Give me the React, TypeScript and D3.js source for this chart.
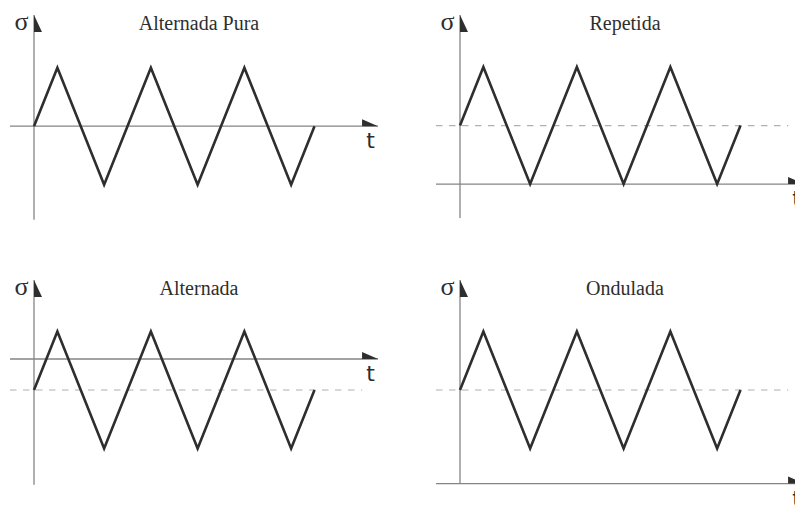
import React from "react";
import * as d3 from "d3";

// Time instants (in load periods) where the triangular stress wave turns.
const turnTimes = [0, 0.25, 0.75, 1.25, 1.75, 2.25, 2.75, 3];

// Stress values at each turning instant, one series per load type.
const sigmaAlternadaPura = [0, 1, -1, 1, -1, 1, -1, 0];
const sigmaRepetida = [1, 2, 0, 2, 0, 2, 0, 1];
const sigmaAlternada = [-0.53, 0.47, -1.53, 0.47, -1.53, 0.47, -1.53, -0.53];
const sigmaOndulada = [1.6, 2.6, 0.6, 2.6, 0.6, 2.6, 0.6, 1.6];

// Panel titles and mean stress levels (null = no mean line drawn).
const titles = ["Alternada Pura", "Repetida", "Alternada", "Ondulada"];
const meanLevels = [null, 1, -0.53, 1.6];

// Extent of each σ axis, in stress units: [bottom, top].
const sigmaExtents: [number, number][] = [
  [-1.6, 1.9],
  [-0.58, 2.89],
  [-2.15, 1.35],
  [0, 3.48],
];

// Extent of the time axis and of the mean line, in periods.
const timeExtent: [number, number] = [-0.257, 3.68];
const meanLineEnd = 3.51;

const series = [sigmaAlternadaPura, sigmaRepetida, sigmaAlternada, sigmaOndulada];

const W = 795;
const H = 505;
const PERIOD_PX = 93.5;
const UNIT_PX = 58.5;
const AXIS_COLOR = "#858585";
const INK = "#2e2e2e";

function Panel({ index, ox, oy }: { index: number; ox: number; oy: number }) {
  const [sLo, sHi] = sigmaExtents[index];
  const axisX = ox + 34;
  const axisTop = oy + 15;

  const x = d3
    .scaleLinear()
    .domain([0, 1])
    .range([axisX, axisX + PERIOD_PX]);
  const y = d3
    .scaleLinear()
    .domain([sHi, sHi - 1])
    .range([axisTop, axisTop + UNIT_PX]);

  const values = series[index];
  const pts = turnTimes.map((t, i) => [t, values[i]] as [number, number]);
  const line = d3
    .line<[number, number]>()
    .x((d) => x(d[0]))
    .y((d) => y(d[1]));

  const y0 = y(0);
  const xStart = x(timeExtent[0]);
  const xEnd = x(timeExtent[1]);
  const yBottom = y(sLo);
  const mean = meanLevels[index];

  return (
    <g>
      {/* time axis with half arrowhead */}
      <line x1={xStart} x2={xEnd} y1={y0} y2={y0} stroke={AXIS_COLOR} strokeWidth={1.3} />
      <path d={`M${xEnd - 16},${y0 - 7} L${xEnd},${y0} L${xEnd - 16},${y0} Z`} fill={INK} />
      {/* stress axis with half arrowhead */}
      <line x1={axisX} x2={axisX} y1={axisTop} y2={yBottom} stroke={AXIS_COLOR} strokeWidth={1.3} />
      <path d={`M${axisX},${axisTop} L${axisX + 8},${axisTop + 17} L${axisX},${axisTop + 17} Z`} fill={INK} />

      {mean !== null && (
        <line
          x1={xStart}
          x2={x(meanLineEnd)}
          y1={y(mean)}
          y2={y(mean)}
          stroke="#b0b0b0"
          strokeWidth={1.2}
          strokeDasharray="6.5,6.5"
        />
      )}

      <path d={line(pts) ?? ""} fill="none" stroke={INK} strokeWidth={2.6} strokeLinejoin="miter" />

      <text
        x={axisX - 12.5}
        y={oy + 30}
        textAnchor="middle"
        fontFamily="'Liberation Serif', serif"
        fontSize={26}
        fill={INK}
      >
        σ
      </text>
      <text
        x={xEnd - 7.5}
        y={y0 + 22}
        textAnchor="middle"
        fontFamily="'DejaVu Sans', sans-serif"
        fontSize={22}
        fill={INK}
      >
        t
      </text>
      <text
        x={axisX + 165}
        y={oy + 30}
        textAnchor="middle"
        fontFamily="'Liberation Serif', serif"
        fontSize={20}
        fill={INK}
      >
        {titles[index]}
      </text>
    </g>
  );
}

export default function App() {
  const offsets = [
    [0, 0],
    [426, 0],
    [0, 265],
    [426, 265],
  ];
  return (
    <svg
      width={W}
      height={H}
      viewBox={`0 0 ${W} ${H}`}
      style={{ position: "absolute", left: 0, top: 0, background: "#fff" }}
    >
      <rect width={W} height={H} fill="#fff" />
      {offsets.map(([ox, oy], i) => (
        <Panel key={i} index={i} ox={ox} oy={oy} />
      ))}
    </svg>
  );
}
